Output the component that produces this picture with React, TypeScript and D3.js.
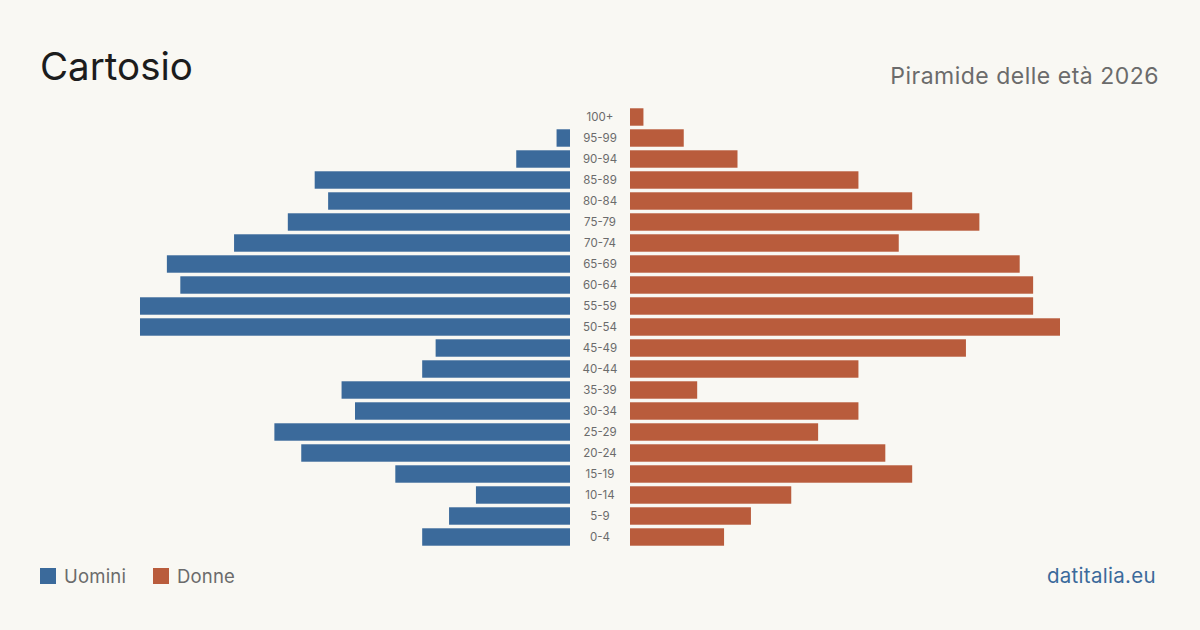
import * as d3 from 'd3';
import React, { useEffect, useRef } from 'react';

const ageGroups = ['100+', '95-99', '90-94', '85-89', '80-84', '75-79', '70-74', '65-69', '60-64', '55-59', '50-54', '45-49', '40-44', '35-39', '30-34', '25-29', '20-24', '15-19', '10-14', '5-9', '0-4'];
const men = [0, 1, 4, 19, 18, 21, 25, 30, 29, 32, 32, 10, 11, 17, 16, 22, 20, 13, 7, 9, 11];
const women = [1, 4, 8, 17, 21, 26, 20, 29, 30, 30, 32, 25, 17, 5, 17, 14, 19, 21, 12, 9, 7];

const W = 1200;
const H = 630;
const BLUE = '#3b6a9b';
const RED = '#b95c3c';
const FONT = 'Inter, "Noto Sans", sans-serif';

const App: React.FC = () => {
  const ref = useRef<HTMLDivElement>(null);

  useEffect(() => {
    const svg = d3
      .create('svg')
      .attr('viewBox', [0, 0, W, H])
      .attr('width', W)
      .attr('height', H)
      .attr('style', `display:block; font-family:${FONT};`);

    svg.append('rect').attr('width', W).attr('height', H).attr('fill', '#f9f8f3');

    const y = d3.scaleBand<string>().domain(ageGroups).range([106.5, 547.5]).paddingInner(0.17).paddingOuter(0.085);
    const x = d3.scaleLinear().domain([0, 32]).range([0, 430]);
    const leftEdge = 570;
    const rightEdge = 630;

    svg
      .append('g')
      .selectAll('rect')
      .data(ageGroups)
      .join('rect')
      .attr('x', (_, i) => leftEdge - x(men[i]))
      .attr('y', d => y(d)!)
      .attr('width', (_, i) => x(men[i]))
      .attr('height', y.bandwidth())
      .attr('fill', BLUE);

    svg
      .append('g')
      .selectAll('rect')
      .data(ageGroups)
      .join('rect')
      .attr('x', rightEdge)
      .attr('y', d => y(d)!)
      .attr('width', (_, i) => x(women[i]))
      .attr('height', y.bandwidth())
      .attr('fill', RED);

    svg
      .append('g')
      .selectAll('text')
      .data(ageGroups)
      .join('text')
      .attr('x', 600)
      .attr('y', d => y(d)! + y.bandwidth() / 2)
      .attr('dy', '0.35em')
      .attr('text-anchor', 'middle')
      .attr('font-size', 11.5)
      .attr('fill', '#6b6b6b')
      .text(d => d);

    // title + subtitle
    svg.append('text').attr('x', 40).attr('y', 80).attr('font-size', 38.5).attr('fill', '#1c1c1c').text('Cartosio');
    svg
      .append('text')
      .attr('x', 1159)
      .attr('y', 84)
      .attr('text-anchor', 'end')
      .attr('font-size', 23)
      .attr('letter-spacing', 0.5)
      .attr('fill', '#6b6b6b')
      .text('Piramide delle età 2026');

    // legend
    const legend = [
      { label: 'Uomini', color: BLUE, x: 40 },
      { label: 'Donne', color: RED, x: 153 },
    ];
    const lg = svg.append('g').selectAll('g').data(legend).join('g').attr('transform', d => `translate(${d.x},568)`);
    lg.append('rect').attr('width', 16).attr('height', 16).attr('fill', d => d.color);
    lg
      .append('text')
      .attr('x', 24)
      .attr('y', 8.5)
      .attr('dy', '0.35em')
      .attr('font-size', 18.5)
      .attr('letter-spacing', 0.2)
      .attr('fill', '#6b6b6b')
      .text(d => d.label);

    svg
      .append('text')
      .attr('x', 1156)
      .attr('y', 583)
      .attr('text-anchor', 'end')
      .attr('font-size', 20.5)
      .attr('letter-spacing', 0.3)
      .attr('fill', BLUE)
      .text('datitalia.eu');

    d3.select(ref.current).html('');
    d3.select(ref.current).append(() => svg.node());
  }, []);

  return <div ref={ref} style={{ position: 'absolute', left: 0, top: 0 }}></div>;
};

export default App;
